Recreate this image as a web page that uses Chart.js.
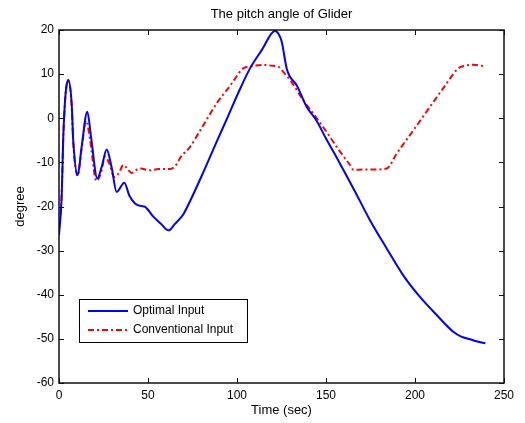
<!DOCTYPE html>
<html><head><meta charset="utf-8">
<script src="https://cdn.jsdelivr.net/npm/chart.js@4"></script>
<style>html,body{margin:0;padding:0;background:#fff;} canvas{display:block;}</style>
</head><body>
<canvas id="c" width="525" height="423"></canvas>
<script>
const titleText = 'The pitch angle of Glider';
const xTitle = 'Time (sec)';
const yTitle = 'degree';
const xTicks = [0, 50, 100, 150, 200, 250];
const yTicks = [-60, -50, -40, -30, -20, -10, 0, 10, 20];
const seriesNames = ['Optimal Input', 'Conventional Input'];

const tOptimal = [0, 1.5, 2.4, 3.7, 5.2, 7.1, 8, 10.5, 12.7, 15.9, 18, 21.5, 24, 26.8, 29.5, 32.4, 36.7, 39.5, 42.7, 46.4, 48, 53, 57, 61.6, 65, 69.8, 73.6, 80, 88.6, 95, 101, 107.3, 114, 121.3, 123.2, 125.1, 127.9, 129.8, 133.5, 139.1, 144.8, 150, 156, 165.4, 174.7, 184.1, 193.4, 202.8, 212.2, 221.5, 226, 230.9, 235, 239.5];
const pitchOptimal = [-26.5, -17.8, -4.2, 5.6, 8.7, 3.4, -5, -12.9, -6.5, 1.5, -4.2, -13.6, -11, -7.1, -11, -16.7, -14.6, -17.5, -19.3, -19.9, -20, -22.3, -23.8, -25.4, -24, -21.8, -18.8, -13.2, -5.3, 0.5, 6, 11.3, 15.5, 19.8, 19.2, 17.4, 11.3, 9.4, 7.5, 2.6, -0.6, -4.6, -8.9, -15.9, -23.1, -29.5, -35.6, -40.5, -44.6, -48.4, -49.5, -50.1, -50.6, -51];

const tConventional = [0, 1.5, 2.4, 3.7, 5.2, 7.1, 8, 10.5, 12.7, 15.2, 17.5, 21, 23.5, 25.8, 28.5, 31, 33.5, 36.1, 38.5, 40.8, 43, 46, 51, 56, 62.4, 66.1, 68, 73.6, 80, 88.6, 96, 103.5, 108, 114.8, 120, 123.2, 126, 129.8, 137.2, 144.8, 152.2, 156, 163.5, 165.4, 171, 178, 184.1, 189.7, 200, 208.4, 216, 224.3, 228, 232.8, 239.3];
const pitchConventional = [-25, -17, -4.5, 5.5, 8.5, 3, -5.5, -13, -7, -0.5, -5, -14.2, -12.5, -8.7, -10.5, -13.3, -12.5, -10.6, -11.5, -12.4, -11.8, -11.4, -11.8, -11.5, -11.5, -10.4, -9, -6.5, -2.3, 3.4, 7.3, 11.3, 11.8, 12.1, 11.9, 11.7, 10.5, 8.7, 4.1, 0, -4.2, -6.5, -10.6, -11.7, -11.6, -11.6, -11.4, -8, -2.2, 2.6, 6.9, 11.3, 11.9, 12.1, 11.8];

const toPts = (xs, ys) => xs.map((v, i) => ({x: v, y: ys[i]}));

Chart.defaults.font.family = '"Liberation Sans", Arial, sans-serif';
Chart.defaults.font.size = 12;
Chart.defaults.color = '#000';

const boxPlugin = {
  id: 'box',
  afterDraw(chart) {
    const {ctx, chartArea: a, scales: {x, y}} = chart;
    ctx.save();
    // title centred over the axes
    ctx.fillStyle = '#000';
    ctx.font = '13px "Liberation Sans", Arial, sans-serif';
    ctx.textAlign = 'center';
    ctx.textBaseline = 'middle';
    ctx.fillText(titleText, (a.left + a.right) / 2, 14);

    ctx.strokeStyle = '#111';
    ctx.lineWidth = 1.5;
    ctx.strokeRect(a.left, a.top, a.right - a.left, a.bottom - a.top);
    ctx.lineWidth = 1;
    ctx.beginPath();
    const tl = 5;
    xTicks.forEach(v => {
      const px = Math.round(x.getPixelForValue(v)) + 0.5;
      ctx.moveTo(px, a.bottom); ctx.lineTo(px, a.bottom - tl);
      ctx.moveTo(px, a.top); ctx.lineTo(px, a.top + tl);
    });
    yTicks.forEach(v => {
      const py = Math.round(y.getPixelForValue(v)) + 0.5;
      ctx.moveTo(a.left, py); ctx.lineTo(a.left + tl, py);
      ctx.moveTo(a.right, py); ctx.lineTo(a.right - tl, py);
    });
    ctx.stroke();

    // legend box
    const lx = 79, ly = 299, lw = 168, lh = 43;
    ctx.fillStyle = '#fff';
    ctx.fillRect(lx, ly, lw, lh);
    ctx.strokeStyle = '#000';
    ctx.lineWidth = 1;
    ctx.strokeRect(lx + 0.5, ly + 0.5, lw, lh);
    const rows = [311, 330];
    chart.data.datasets.forEach((ds, i) => {
      const yy = rows[i];
      ctx.strokeStyle = ds.borderColor;
      ctx.lineWidth = ds.borderWidth;
      ctx.setLineDash(ds.borderDash || []);
      ctx.beginPath();
      ctx.moveTo(lx + 9, yy); ctx.lineTo(lx + 49, yy);
      ctx.stroke();
      ctx.setLineDash([]);
      ctx.fillStyle = '#000';
      ctx.font = '12px "Liberation Sans", Arial, sans-serif';
      ctx.textBaseline = 'middle';
      ctx.textAlign = 'left';
      ctx.fillText(ds.label, lx + 54, yy);
    });
    ctx.restore();
  }
};

new Chart(document.getElementById('c'), {
  type: 'line',
  data: {
    datasets: [
      {label: seriesNames[0], data: toPts(tOptimal, pitchOptimal), borderColor: '#0000ff', borderWidth: 2, pointRadius: 0, cubicInterpolationMode: 'monotone', fill: false},
      {label: seriesNames[1], data: toPts(tConventional, pitchConventional), borderColor: '#ff0000', borderWidth: 2, borderDash: [6, 3, 2, 3], pointRadius: 0, cubicInterpolationMode: 'monotone', fill: false}
    ]
  },
  options: {
    responsive: false,
    animation: false,
    layout: {padding: {left: 0, right: 21, top: 30, bottom: 0}},
    plugins: {
      legend: {display: false},
      tooltip: {enabled: false},
      title: {display: false}
    },
    scales: {
      x: {
        type: 'linear', min: 0, max: 250,
        grid: {display: false, drawTicks: false},
        border: {display: false},
        ticks: {padding: 5, maxRotation: 0, color: '#000'},
        afterBuildTicks: s => { s.ticks = xTicks.map(v => ({value: v})); },
        afterFit: s => { s.height = 40; },
        title: {display: true, text: xTitle, color: '#000', font: {size: 13}, padding: {top: 0, bottom: 5}}
      },
      y: {
        type: 'linear', min: -60, max: 20,
        grid: {display: false, drawTicks: false},
        border: {display: false},
        ticks: {padding: 5, color: '#000'},
        afterBuildTicks: s => { s.ticks = yTicks.map(v => ({value: v})); },
        afterFit: s => { s.width = 59; },
        title: {display: true, text: yTitle, color: '#000', font: {size: 13}, padding: {top: 13, bottom: 0}}
      }
    }
  },
  plugins: [boxPlugin]
});
</script>
</body></html>
